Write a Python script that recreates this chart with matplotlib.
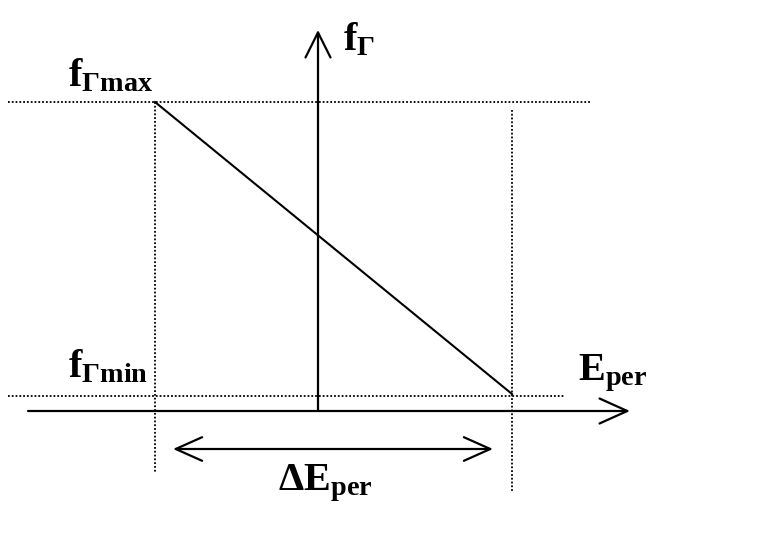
import matplotlib
matplotlib.use('Agg')
import matplotlib.pyplot as plt
from matplotlib.patches import FancyArrowPatch

plt.rcParams['mathtext.fontset'] = 'custom'
plt.rcParams['mathtext.rm'] = 'Liberation Serif:bold'
plt.rcParams['mathtext.it'] = 'Liberation Serif:bold'
plt.rcParams['mathtext.bf'] = 'Liberation Serif:bold'

# schematic values (arbitrary units, origin at axis crossing)
E_range = [-163, 194]        # E_per at f_max, f_min
f_values = [309, 17]         # f_max, f_min
x_axis = [-290, 312]
y_axis = [0, 381]
delta_y = -38
delta_x = [-145, 175]

fig = plt.figure(figsize=(7.62, 5.56), dpi=100)
ax = fig.add_axes([0, 0, 1, 1])
ax.set_xlim(-318, 444)
ax.set_ylim(-145, 411)
ax.axis('off')

# main line
ax.plot(E_range, f_values, color='black', lw=1.5)

# dotted guides
dot = (0, (1, 1.1))
ax.plot([-310, 272], [f_values[0], f_values[0]], color='black', lw=1.3, ls=dot)
ax.plot([-310, 247], [f_values[1] - 2, f_values[1] - 2], color='black', lw=1.3, ls=dot)
ax.plot([E_range[0], E_range[0]], [f_values[0], -61], color='black', lw=1.3, ls=dot)
ax.plot([E_range[1], E_range[1]], [f_values[0] - 8, -81], color='black', lw=1.3, ls=dot)

# axes arrows
ax.add_patch(FancyArrowPatch((x_axis[0], 0), (x_axis[1], 0),
                             arrowstyle='->,head_length=20,head_width=9',
                             mutation_scale=1, lw=1.6, color='black', shrinkA=0, shrinkB=0))
ax.add_patch(FancyArrowPatch((0, y_axis[0]), (0, y_axis[1]),
                             arrowstyle='->,head_length=18,head_width=9',
                             mutation_scale=1, lw=1.6, color='black', shrinkA=0, shrinkB=0))
ax.add_patch(FancyArrowPatch((delta_x[0], delta_y), (delta_x[1], delta_y),
                             arrowstyle='<->,head_length=19,head_width=8.5',
                             mutation_scale=1, lw=1.6, color='black', shrinkA=0, shrinkB=0))

fs = 29
ax.text(-250, 325, r'$\mathrm{f_{Γmax}}$', fontsize=fs, ha='left', va='baseline')
ax.text(25, 361, r'$\mathrm{f_{Γ}}$', fontsize=fs, ha='left', va='baseline')
ax.text(-250, 34, r'$\mathrm{f_{Γmin}}$', fontsize=fs, ha='left', va='baseline')
ax.text(260, 31, r'$\mathrm{E_{per}}$', fontsize=fs, ha='left', va='baseline')
ax.text(-40, -79, r'$\mathrm{ΔE_{per}}$', fontsize=fs, ha='left', va='baseline')

fig.savefig('out.png', dpi=100)
